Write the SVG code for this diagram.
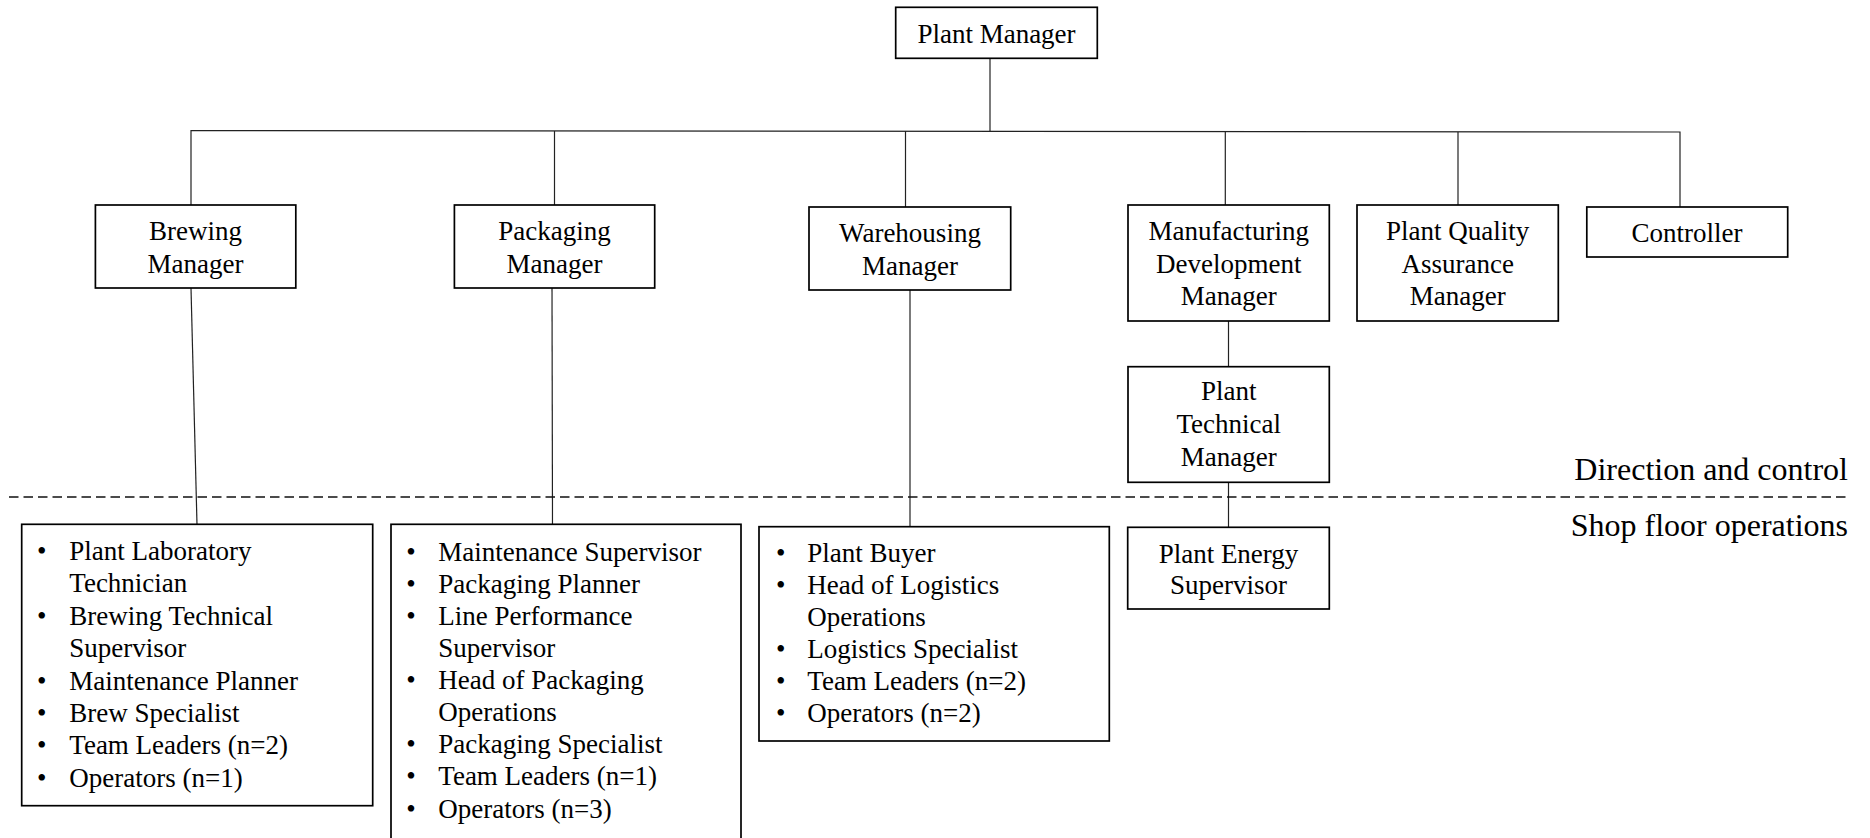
<svg xmlns="http://www.w3.org/2000/svg" width="1870" height="838" viewBox="0 0 1870 838" font-family="'Liberation Serif', 'Times New Roman', Times, 'DejaVu Serif', serif">
<style>
text{font-family:"Liberation Serif","Times New Roman",Times,"DejaVu Serif",serif}
.box{fill:#fff;stroke:#000;stroke-width:1.7}
.t{font-size:27px;fill:#000}
.c{text-anchor:middle}
.lbl{font-size:32px;fill:#000;text-anchor:end}
.con{stroke:#222;stroke-width:1.2;fill:none}
.dash{stroke:#111;stroke-width:1.3;stroke-dasharray:9.5 5;fill:none}
</style>
<rect width="1870" height="838" fill="#fff"/>
<g id="connectors">
<line class="con" x1="990" y1="58" x2="990" y2="131"/>
<polyline class="con" points="191,205 191,130.5 1680,132 1680,207"/>
<line class="con" x1="554.5" y1="131" x2="554.5" y2="205"/>
<line class="con" x1="905.5" y1="131" x2="905.5" y2="207"/>
<line class="con" x1="1225.3" y1="131.5" x2="1225.3" y2="205"/>
<line class="con" x1="1458" y1="132" x2="1458" y2="205"/>
<line class="con" x1="191" y1="288" x2="197" y2="524.5"/>
<line class="con" x1="552" y1="288" x2="552.5" y2="524.5"/>
<line class="con" x1="910" y1="290" x2="910" y2="527"/>
<line class="con" x1="1228.5" y1="321" x2="1228.5" y2="366.7"/>
<line class="con" x1="1228.5" y1="482.3" x2="1228.5" y2="527"/>
</g>
<g id="divider">
<line class="dash" x1="9" y1="497" x2="1848" y2="497"/>
<text class="lbl" x="1848" y="480">Direction and control</text>
<text class="lbl" x="1848" y="536">Shop floor operations</text>
</g>
<g id="plant-manager">
<rect class="box" x="895.7" y="7.3" width="201.6" height="51"/>
<text class="t c" x="996.5" y="43.3">Plant Manager</text>
</g>
<g id="brewing-manager">
<rect class="box" x="95.4" y="205" width="200.4" height="83"/>
<text class="t c" x="195.6" y="240">Brewing</text>
<text class="t c" x="195.6" y="273">Manager</text>
</g>
<g id="packaging-manager">
<rect class="box" x="454.4" y="205" width="200.3" height="83"/>
<text class="t c" x="554.5" y="240">Packaging</text>
<text class="t c" x="554.5" y="273">Manager</text>
</g>
<g id="warehousing-manager">
<rect class="box" x="809" y="207" width="201.7" height="83"/>
<text class="t c" x="910" y="241.5">Warehousing</text>
<text class="t c" x="910" y="274.5">Manager</text>
</g>
<g id="manufacturing-development-manager">
<rect class="box" x="1128" y="205" width="201.3" height="116"/>
<text class="t c" x="1228.7" y="240">Manufacturing</text>
<text class="t c" x="1228.7" y="272.5">Development</text>
<text class="t c" x="1228.7" y="305">Manager</text>
</g>
<g id="plant-quality-assurance-manager">
<rect class="box" x="1357" y="205" width="201.3" height="116"/>
<text class="t c" x="1457.7" y="240">Plant Quality</text>
<text class="t c" x="1457.7" y="272.5">Assurance</text>
<text class="t c" x="1457.7" y="305">Manager</text>
</g>
<g id="controller">
<rect class="box" x="1586.8" y="207" width="200.9" height="50"/>
<text class="t c" x="1687" y="241.7">Controller</text>
</g>
<g id="plant-technical-manager">
<rect class="box" x="1128" y="366.7" width="201.3" height="115.6"/>
<text class="t c" x="1228.7" y="400">Plant</text>
<text class="t c" x="1228.7" y="432.7">Technical</text>
<text class="t c" x="1228.7" y="465.5">Manager</text>
</g>
<g id="plant-energy-supervisor">
<rect class="box" x="1127.7" y="527.3" width="201.6" height="81.7"/>
<text class="t c" x="1228.5" y="562.5">Plant Energy</text>
<text class="t c" x="1228.5" y="593.5">Supervisor</text>
</g>
<g id="brewing-staff">
<rect class="box" x="21.7" y="524.3" width="351" height="281.4"/>
<text class="t" x="37" y="560">•</text>
<text class="t" x="69.3" y="560">Plant Laboratory</text>
<text class="t" x="69.3" y="592">Technician</text>
<text class="t" x="37" y="624.5">•</text>
<text class="t" x="69.3" y="624.5">Brewing Technical</text>
<text class="t" x="69.3" y="657">Supervisor</text>
<text class="t" x="37" y="689.5">•</text>
<text class="t" x="69.3" y="689.5">Maintenance Planner</text>
<text class="t" x="37" y="722">•</text>
<text class="t" x="69.3" y="722">Brew Specialist</text>
<text class="t" x="37" y="754.3">•</text>
<text class="t" x="69.3" y="754.3">Team Leaders (n=2)</text>
<text class="t" x="37" y="786.7">•</text>
<text class="t" x="69.3" y="786.7">Operators (n=1)</text>
</g>
<g id="packaging-staff">
<rect class="box" x="391" y="524.3" width="350" height="320"/>
<text class="t" x="406.3" y="560.7">•</text>
<text class="t" x="438.3" y="560.7">Maintenance Supervisor</text>
<text class="t" x="406.3" y="592.7">•</text>
<text class="t" x="438.3" y="592.7">Packaging Planner</text>
<text class="t" x="406.3" y="624.5">•</text>
<text class="t" x="438.3" y="624.5">Line Performance</text>
<text class="t" x="438.3" y="656.7">Supervisor</text>
<text class="t" x="406.3" y="688.5">•</text>
<text class="t" x="438.3" y="688.5">Head of Packaging</text>
<text class="t" x="438.3" y="720.7">Operations</text>
<text class="t" x="406.3" y="753">•</text>
<text class="t" x="438.3" y="753">Packaging Specialist</text>
<text class="t" x="406.3" y="785.3">•</text>
<text class="t" x="438.3" y="785.3">Team Leaders (n=1)</text>
<text class="t" x="406.3" y="817.5">•</text>
<text class="t" x="438.3" y="817.5">Operators (n=3)</text>
</g>
<g id="warehousing-staff">
<rect class="box" x="759" y="526.7" width="350.3" height="214.3"/>
<text class="t" x="776" y="561.7">•</text>
<text class="t" x="807.3" y="561.7">Plant Buyer</text>
<text class="t" x="776" y="593.5">•</text>
<text class="t" x="807.3" y="593.5">Head of Logistics</text>
<text class="t" x="807.3" y="625.7">Operations</text>
<text class="t" x="776" y="657.7">•</text>
<text class="t" x="807.3" y="657.7">Logistics Specialist</text>
<text class="t" x="776" y="690">•</text>
<text class="t" x="807.3" y="690">Team Leaders (n=2)</text>
<text class="t" x="776" y="722.3">•</text>
<text class="t" x="807.3" y="722.3">Operators (n=2)</text>
</g>
</svg>
